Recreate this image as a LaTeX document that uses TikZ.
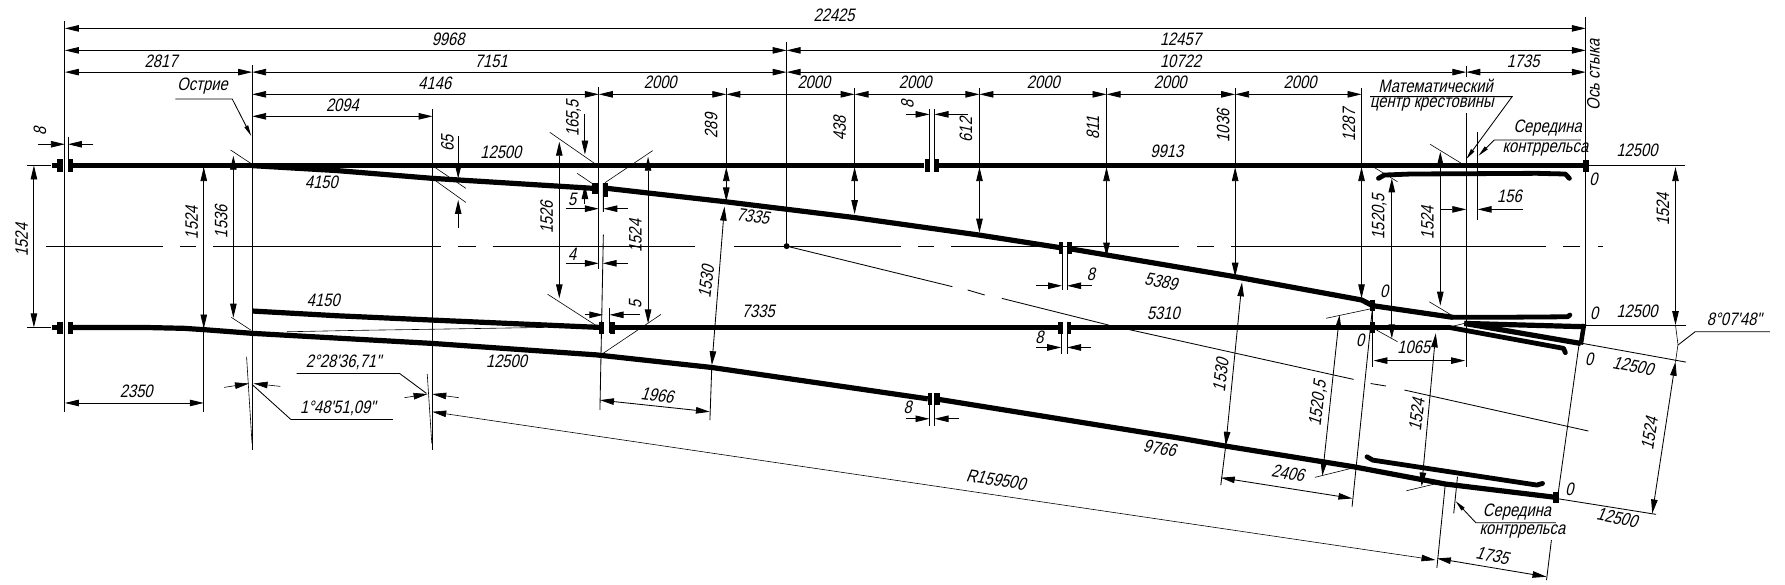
\documentclass[tikz,border=0pt]{standalone}
\usepackage{fontspec}
\usetikzlibrary{arrows.meta}
\newfontfamily\dfont[FakeSlant=0.22,FakeStretch=0.82]{Liberation Sans}
\tikzset{
 >={Triangle[length=14pt,width=6.5pt]},
 tl/.style={line width=.85pt},
 hl/.style={line width=.6pt},
 rail/.style={line width=5.2pt,line join=round},
 wing/.style={line width=4.8pt,line join=round,line cap=round},
 lbl/.style={inner sep=0pt,font=\dfont\fontsize{18}{19}\selectfont},
 lead/.style={tl,-{Triangle[length=11pt,width=4pt]}},
}
\newcount\tn
\newcommand{\T}[4][0]{\global\advance\tn by 1 \node[lbl,rotate=#1] (t\the\tn) at (#2,#3) {#4};}
\newcommand{\B}[4]{\fill (#1,#2) rectangle (#3,#4);}
\newcommand{\Dd}[2]{\draw[tl,<->] #1 -- #2;}
\begin{document}
\begin{tikzpicture}[x=1.1384pt,y=-1.1448pt]
\useasboundingbox (0,0) rectangle (1568,511);
% ---------- rails
\draw[rail] (45.6,144.5) -- (50,144.5);
\draw[rail] (63,144.5) -- (812,144.5);
\draw[rail] (825,144.5) -- (1393,144.5);
\B{50.3}{139.2}{55}{150.3}\B{59.7}{139.2}{63.7}{150.3}
\B{812.5}{139.2}{817.2}{150.3}\B{820.5}{139.2}{825.2}{150.3}
\B{1390.3}{139.8}{1395.4}{150}
\draw[rail] (222,144.7) -- (295.8,149) -- (380,155.8) -- (521,164.5);
\draw[rail] (533,164.5) -- (637,176.2) -- (749.4,189.9) -- (860,205.3) -- (931,216.3);
\B{520}{159.6}{526.4}{169.8}\B{529.7}{159.6}{533.8}{171.8}
\draw[rail] (941,217.5) -- (1084.8,241.7) -- (1196,262) -- (1205.8,267) -- (1276.3,277.2);
\B{930}{211.7}{934}{222}\B{938}{211.7}{941.3}{222}
\draw[wing] (1276.3,277.2) -- (1310,277.2) -- (1377,276.7) -- (1379,275.2);
% lower straight rail
\draw[rail] (45.6,286) -- (50,286);
\B{50.3}{281}{55}{292}\B{59.7}{281}{63.7}{292}
\draw[rail] (63.7,286) -- (125,286) -- (161.6,286.8) -- (179.8,288) -- (222,291.2) -- (380,300) -- (524,310) -- (625.3,321) -- (815,348.4);
\B{814.8}{343.6}{819}{353.8}\B{821.5}{343.6}{825.5}{353.8}
\draw[rail] (825.5,349) -- (1041,383.5) -- (1075,389.4) -- (1189,407.7) -- (1269.6,422.8) -- (1367,434.5);
\B{1364.5}{430}{1369.5}{439}
\draw[rail] (222,271.7) -- (295.8,275.8) -- (380,279.6) -- (526.6,286);
\draw[hl] (252,289.8) -- (312.6,288.6) -- (373,287.7) -- (478,286);
\B{526.4}{281}{530.7}{291.8}\B{535.4}{281}{539.8}{291.8}
\draw[rail] (539.8,286) -- (929,286);
\B{929}{281}{934}{291.8}\B{937}{281}{941}{291.8}
\draw[rail] (941,286) -- (1273,286);
\draw[wing] (1273,286) -- (1373.5,304.3) -- (1375,308);
% frog
\draw[rail] (1286.3,282.5) -- (1392,285.4);
\draw[rail] (1286.3,282.5) -- (1388.6,300);
\draw[line width=4.5pt] (1391.5,283) -- (1388.6,301);
% guard rails
\draw[wing] (1210.9,155.8) -- (1216,152.9) -- (1239.4,152) -- (1350,151.4) -- (1375,152) -- (1378.6,155.8);
\draw[wing] (1200.8,399) -- (1205.8,401.9) -- (1350,423.7) -- (1355,422.3);
% small joint marks at the centre of crossing
\B{1203.5}{262}{1208.2}{272}\B{1203.5}{281}{1208.2}{291}
% ---------- centre lines
\foreach \a/\b in {40/143,157.7/172.3,187.3/387.7,402.3/417.7,432.7/610.7,645/791.7,806/820.7,835.7/1036,1051.7/1066,1081.7/1358.3,1373.3/1387.7,1403.3/1408}{\draw[tl] (\a,215) -- (\b,215);}
\fill (691,215) circle (2.6);
\draw[tl] (691,215) -- (836.6,250.4) (850,253.3) -- (865,257.7) (880,260.6) -- (974,284) (991,287.7) -- (1189,331.4) (1204,335) -- (1217.6,337.2) (1233.7,340.7) -- (1395.3,376.5);
% ---------- main verticals
\draw[tl] (57,18.3) -- (57,360);
\draw[tl] (221.5,56.8) -- (221.5,393);
\draw[tl] (380,95) -- (380,393);
\draw[tl] (691,37) -- (691,215);
\draw[tl] (526,76) -- (526,235);
\draw[tl] (530,160) -- (530,185) (530,205) -- (527,358);
\draw[tl] (1393,15) -- (1393,284.5);
\draw[tl] (1288,57.7) -- (1288,67) (1288,99) -- (1288,321);
\draw[hl] (216.6,311.6) -- (221.4,387.3);
\draw[hl] (375.3,326.7) -- (379.3,387.3);
% ---------- horizontal chains
\Dd{(57,24.8)}{(1393,24.8)}
\Dd{(57,44)}{(691,44)}\Dd{(691,44)}{(1393,44)}
\Dd{(57,63)}{(221.5,63)}\Dd{(221.5,63)}{(691,63)}\Dd{(691,63)}{(1288,63)}\Dd{(1288,63)}{(1393,63)}
\Dd{(221.5,82.4)}{(526,82.4)}\Dd{(526,82.4)}{(638,82.4)}\Dd{(638,82.4)}{(750.7,82.4)}\Dd{(750.7,82.4)}{(860.4,82.4)}\Dd{(860.4,82.4)}{(972,82.4)}\Dd{(972,82.4)}{(1085,82.4)}\Dd{(1085,82.4)}{(1196,82.4)}
\Dd{(221.5,101.6)}{(380,101.6)}
\Dd{(57,352)}{(179,352)}
% ---------- left verticals
\draw[tl] (24,144.5) -- (45,144.5) (24,286) -- (45,286);
\Dd{(29.8,144.5)}{(29.8,286)}
\draw[tl] (179,145) -- (179,360);
\Dd{(179,146)}{(179,287)}
\Dd{(205,136)}{(205,277.5)}
\draw[hl] (202.5,131) -- (220.3,142.7) (203.2,277.2) -- (220.3,288.3);
% 8 at left joint
\draw[tl] (59.7,119.4) -- (59.7,144);
\draw[tl,->] (33.5,126) -- (57,126);
\draw[tl,->] (82,126) -- (59.7,126);
% Ostrie
\draw[lead] (154,86.5) -- (204,86.5) -- (220.7,118.8);
% 65
\draw[tl,->] (402.5,118.8) -- (402.5,156);
\draw[tl,->] (402.5,198.9) -- (402.5,174.7);
\draw[hl] (379.7,144.7) -- (409.2,164.5) (379.7,155.8) -- (409.2,176.8);
% 1526, 165,5, 5, 4
\Dd{(491.3,123.8)}{(491.3,260.6)}
\draw[hl] (483,115.6) -- (522.2,142.7) (481,257) -- (523.9,284.5) (507,151.4) -- (522.2,161.6);
\draw[tl,->] (513.8,100) -- (513.8,135);
\draw[tl,->] (513.8,178) -- (513.8,161.6);
\draw[tl,->] (497,182.3) -- (526,182.3);
\draw[tl,->] (551.5,182.3) -- (530,182.3);
\draw[tl,->] (497,230) -- (526,230);
\draw[tl,->] (551.5,230) -- (529.4,230);
\draw[tl,->] (513.8,275) -- (530,275);
\draw[tl,->] (562.6,275) -- (535.4,275);
\draw[tl] (535.4,269.4) -- (535.4,291);
% 1524 at 569
\Dd{(569.3,136.9)}{(569.3,282.5)}
\draw[hl] (573.3,131.6) -- (531.4,159.6) (580.7,274.6) -- (529.7,308.7);
% verticals of 2000 chain
\draw[tl] (638,77) -- (638,144);
\Dd{(638,146)}{(638,176)}
\draw[tl,<->] (636.4,180.5) -- (625.3,319);
\draw[tl] (625.3,319) -- (623.6,367);
\draw[tl] (750.7,77) -- (750.7,144);
\Dd{(750.7,146)}{(750.7,187)}
\draw[tl] (860.4,77) -- (860.4,144);
\Dd{(860.4,146)}{(860.4,203.3)}
\draw[tl] (972,77) -- (972,144);
\Dd{(972,146)}{(972,224.2)}
\draw[tl] (1085,77) -- (1085,144);
\Dd{(1085,146)}{(1085,241.7)}
\draw[tl] (1196,77) -- (1196,144);
\Dd{(1196,146)}{(1196,260.6)}
\Dd{(527,349.5)}{(623.6,359.7)}
% 8 marks
\draw[tl] (816.5,95) -- (816.5,144) (820.9,95) -- (820.9,144);
\draw[tl,->] (795.7,99.9) -- (816.5,99.9);
\draw[tl,->] (850,99.9) -- (820.9,99.9);
\draw[tl] (932.9,211.7) -- (932.9,253.3) (937.3,211.7) -- (937.3,253.3);
\draw[tl,->] (910.4,249.6) -- (932.9,249.6);
\draw[tl,->] (959,249.6) -- (937.3,249.6);
\draw[tl] (932.2,281) -- (932.2,309.6) (937.3,281) -- (937.3,309.6);
\draw[tl,->] (910.4,303.5) -- (932.2,303.5);
\draw[tl,->] (958.4,303.5) -- (937.3,303.5);
\draw[tl] (816.5,343.6) -- (816.5,371.9) (820.9,343.6) -- (820.9,371.9);
\draw[tl,->] (795.7,365.8) -- (816.5,365.8);
\draw[tl,->] (842.7,365.8) -- (820.9,365.8);
% angle notes
\draw[tl] (260.6,326.2) -- (351,326.2) -- (374.6,343.6);
\draw[tl] (345,366.4) -- (255.5,366.4) -- (221.4,335.8);
\draw[hl,->] (196.9,338.4) -- (218.7,335);
\draw[hl,->] (246.2,337.5) -- (222.7,335);
\draw[hl,->] (355.2,347.4) -- (375.6,344.2);
\draw[hl,->] (403.1,347.4) -- (379.7,344.2);
% R159500
\draw[hl,<->] (379.7,359.7) -- (1261,489.2);
% ---------- crossing zone
\draw[tl] (1393,284.2) -- (1481,284.2) (1393,144.5) -- (1480,144.5);
\Dd{(1471.8,146)}{(1471.8,284)}
\draw[hl] (1471.8,284) -- (1474,301) -- (1471.8,316);
\draw[tl] (1474,301.4) -- (1489,289.8) -- (1554.7,289.8);
\draw[tl] (1390.3,300) -- (1481,316.3);
\Dd{(1471.8,316)}{(1451.4,448.5)}
\draw[tl] (1367,435.4) -- (1454.7,449.3);
\draw[tl] (1387,301.4) -- (1368.5,432.5) (1362.8,471.8) -- (1358.5,506.7);
\Dd{(1262.2,487.8)}{(1358.5,503.8)}
\draw[tl] (1269.6,422.8) -- (1262.2,496);
\draw[tl] (1280.3,416.4) -- (1277,448.5);
\draw[lead] (1366.8,456.6) -- (1296.4,456.6) -- (1278.6,437.7);
% upper notes
\draw[tl] (1298,115) -- (1298,192);
\draw[tl,->] (1265,182.9) -- (1288,182.9);
\draw[tl,->] (1338,182.9) -- (1298,182.9);
\draw[lead] (1388.6,122.3) -- (1312.5,122.3) -- (1298.8,136);
\draw[lead] (1203.5,84.4) -- (1328.3,84.4) -- (1288,139);
% 1530 right
\draw[tl,<->] (1091,246.6) -- (1076.7,389.4);
\draw[tl] (1076.7,389.4) -- (1072.4,423.7);
\Dd{(1072.4,417.3)}{(1188,435.4)}
% 1520,5
\draw[tl,<->] (1176.7,275.2) -- (1161.6,415.6);
\draw[hl] (1165,278) -- (1205.8,269.4) (1155,417) -- (1189,408.6);
\Dd{(1222.6,155.8)}{(1222.6,295.6)}
\draw[hl] (1207.5,146.5) -- (1227.6,158.7) (1209.2,288.3) -- (1227.6,298.5);
\draw[tl] (1206,262) -- (1206,321);
\draw[tl] (1205.8,267) -- (1187.7,442.6);
\Dd{(1206.5,315)}{(1287,315)}
% 1524 middle
\Dd{(1265.2,132.5)}{(1265.2,267)}
\draw[hl] (1256.2,126) -- (1283.7,142.7) (1255.5,263.6) -- (1276.3,276);
\draw[tl,<->] (1261.2,291.2) -- (1248.8,425);
\draw[hl] (1262.9,288.3) -- (1286.3,282.5) (1235.4,428.7) -- (1266.2,421.4);
% ---------- labels
\T{732.7}{13.7}{22425}
\T{393.7}{34}{9968}
\T{1037}{34}{12457}
\T{141.5}{53.3}{2817}
\T{431.6}{53.3}{7151}
\T{1037}{53.3}{10722}
\T{1338}{53.3}{1735}
\T{382}{72.8}{4146}
\T{580}{72}{2000}\T{715}{72}{2000}\T{804}{72}{2000}\T{916.5}{72}{2000}\T{1028}{72}{2000}\T{1142}{72}{2000}
\T{300.8}{92}{2094}
\T{178}{75}{Острие}
\T[90]{35}{114.4}{8}
\T[90]{19}{209.7}{1524}
\T[90]{168.3}{194.5}{1524}
\T[90]{194.2}{193.6}{1536}
\T[90]{393}{125.2}{65}
\T{440}{133}{12500}
\T{282.4}{159.3}{4150}
\T{284}{262.7}{4150}
\T[90]{503.8}{103.4}{165,5}
\T[90]{480.3}{189.9}{1526}
\T{502.7}{173.8}{5}
\T{502.7}{221.9}{4}
\T[90]{558}{266}{5}
\T[90]{558.2}{206.2}{1524}
\T[90]{624.7}{110}{289}
\T[90]{737.7}{112}{438}
\T[90]{848.4}{113.6}{612}
\T[90]{960}{112}{811}
\T[90]{1074.4}{110}{1036}
\T[90]{1185}{109.2}{1287}
\T[90]{797}{91}{8}
\T{958.4}{239.4}{8}
\T{913}{295}{8}
\T{797.4}{355.9}{8}
\T{1025}{132.5}{9913}
\T[-7]{661.5}{188.7}{7335}
\T{666.2}{271.7}{7335}
\T{1022}{273.8}{5310}
\T[-10]{1020}{246}{5389}
\T[-10]{1018.8}{391.7}{9766}
\T[83]{620.3}{246}{1530}
\T[-7]{577.4}{345}{1966}
\T{119.7}{341.6}{2350}
\T{445}{315.4}{12500}
\T{301.8}{316.6}{2°28'36,71"}
\T{296.8}{356.7}{1°48'51,09"}
\T[-9]{875}{419}{R159500}
\T[83]{1072.4}{327.6}{1530}
\T[-9]{1131.4}{413.5}{2406}
\T[83]{1158}{352.4}{1520,5}
\T[90]{1211.6}{189.3}{1520,5}
\T[90]{1253.8}{194.5}{1524}
\T[83]{1244.4}{362}{1524}
\T{1242}{303.7}{1065}
\T{1326}{171.8}{156}
\T{1261}{75}{Математический}
\T{1257.8}{90.9}{центр крестовины}
\T{1359.5}{112}{Середина}
\T{1357.5}{131}{контррельса}
\T{1332.6}{447}{Середина}
\T{1337.3}{463.9}{контррельса}
\T[90]{1399.7}{65.5}{Ось стыка}
\T{1438}{131}{12500}
\T{1438}{271.7}{12500}
\T{1399.7}{157}{0}
\T{1400.4}{273.8}{0}
\T{1216}{254.2}{0}
\T{1194.8}{297}{0}
\T{1396}{314}{0}
\T{1378.6}{427.2}{0}
\T[90]{1460.7}{182.9}{1524}
\T[81]{1449}{378.6}{1524}
\T[-11]{1434.6}{319.8}{12500}
\T[-11]{1420.5}{452.3}{12500}
\T[-11]{1311}{485.5}{1735}
\T{1523.5}{279}{8°07'48"}
\end{tikzpicture}
\end{document}
